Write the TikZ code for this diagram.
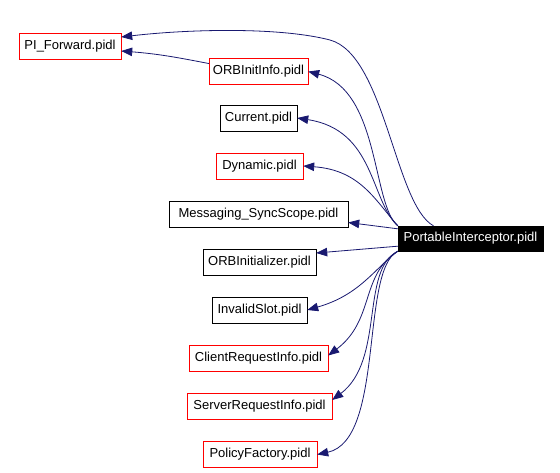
\documentclass[tikz,border=0pt]{standalone}
\usepackage{fontspec}
\setmainfont{Liberation Sans}
\usetikzlibrary{positioning,arrows.meta}
\definecolor{edgeblue}{HTML}{191970}
\tikzset{
  file/.style={draw=black, rectangle, inner sep=0pt, minimum height=26pt, font=\fontsize{13}{15}\selectfont},
  rootfile/.style={file, fill=black, text=white, minimum height=25pt},
  dep/.style={draw=edgeblue, line width=0.8pt, -{Triangle[length=11pt,width=8.5pt]}}
}
\begin{document}
\begin{tikzpicture}[x=1pt,y=-1pt]
    \useasboundingbox (0,0) rectangle (560,472);

    % Root
    \node[rootfile, minimum width=145pt] (root) at (470.5,238.5) {PortableInterceptor.pidl};

    % Included files
    \foreach \n/\t/\x/\y/\w/\c in {pif/PI\_Forward.pidl/70/46/102/red,
        oii/ORBInitInfo.pidl/258.5/71.5/99/red,
        cur/Current.pidl/258.5/118/77/black,
        dyn/Dynamic.pidl/259.5/166/87/red,
        msg/Messaging\_SyncScope.pidl/258.5/214.5/179/black,
        ori/ORBInitializer.pidl/259.5/262/113/black,
        inv/InvalidSlot.pidl/259.5/310/95/black,
        cri/ClientRequestInfo.pidl/258.5/358.5/139/red,
        sri/ServerRequestInfo.pidl/259.5/406/145/red,
        pof/PolicyFactory.pidl/260/454.5/114/red} {
        \node[file, draw=\c, minimum width=\w pt] (\n) at (\x,\y) {\t};
    }

    % Edges up
    \draw[dep] ([xshift=-37pt]root.north) .. controls (395,205) and (385,55) .. (330,40)
        .. controls (280,27) and (190,29) .. ([yshift=9pt]pif.east);
    \draw[dep] ([yshift=8pt]oii.west) .. controls (180,58) and (160,54) .. ([yshift=-5pt]pif.east);
    \draw[dep] (root.north west) .. controls (372,205) and (380,90) .. (oii.east);
    \draw[dep] (root.north west) .. controls (370,200) and (375,130) .. (cur.east);
    \draw[dep] (root.north west) .. controls (375,200) and (360,170) .. (dyn.east);
    \draw[dep] ([yshift=-3pt]root.north west) -- ([yshift=-8pt]msg.east);

    % Edges down
    \draw[dep] ([yshift=5pt]root.south west) -- ([yshift=9pt]ori.east);
    \draw[dep] (root.south west) .. controls (375,268) and (360,295) .. (inv.east);
    \draw[dep] (root.south west) .. controls (360,275) and (375,320) .. ([yshift=3pt]cri.east);
    \draw[dep] (root.south west) .. controls (360,270) and (385,360) .. ([yshift=6pt]sri.east);
    \draw[dep] (root.south west) .. controls (360,270) and (385,440) .. (pof.east);
\end{tikzpicture}
\end{document}
